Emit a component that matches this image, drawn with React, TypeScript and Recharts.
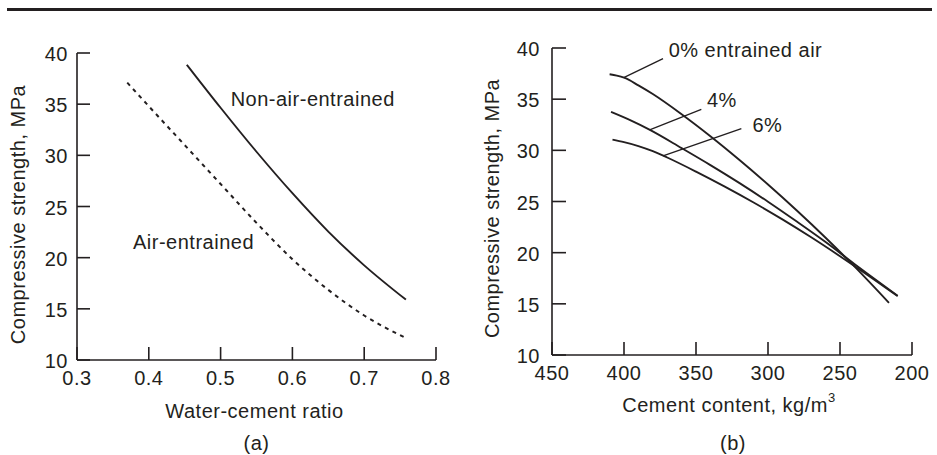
import { LineChart, Line, XAxis, YAxis, Label, ReferenceLine, ReferenceDot } from 'recharts';

const FONT = '"Liberation Sans", Arial, Helvetica, sans-serif';
const INK = '#231f20';
const FS = 20;
const LS = 0.5;

// (a) strength vs water-cement ratio
const ratioTicks = [0.3, 0.4, 0.5, 0.6, 0.7, 0.8];
const strengthTicks = [10, 15, 20, 25, 30, 35, 40];
const nonAirRatio = [0.453, 0.5, 0.55, 0.6, 0.65, 0.7, 0.758];
const nonAirStrength = [38.85, 34.65, 30.35, 26.3, 22.55, 19.25, 15.9];
const airRatio = [0.37, 0.4, 0.45, 0.5, 0.55, 0.6, 0.65, 0.7, 0.755];
const airStrength = [37.1, 34.8, 31.0, 27.2, 23.4, 19.85, 16.85, 14.35, 12.25];

// (b) strength vs cement content
const cementTicks = [450, 400, 350, 300, 250, 200];
const air0Cement = [410, 405, 400, 390, 380, 360, 340, 320, 300, 280, 260, 240, 216];
const air0Strength = [37.43, 37.3, 37.1, 36.35, 35.5, 33.53, 31.38, 29.08, 26.66, 24.12, 21.46, 18.66, 15.1];
const air4Cement = [409, 395, 382, 360, 340, 320, 300, 280, 260, 240, 210];
const air4Strength = [33.75, 32.9, 32.0, 30.22, 28.56, 26.82, 24.98, 23.04, 21.04, 18.9, 15.8];
const air6Cement = [408, 400, 390, 380, 370, 350, 330, 310, 290, 270, 250, 240, 210];
const air6Strength = [31.05, 30.8, 30.42, 29.92, 29.3, 27.92, 26.45, 24.9, 23.25, 21.5, 19.65, 18.7, 15.75];

// curve labels and their leader lines
const notesA = [
  { text: 'Non-air-entrained', x: 0.514, y: 35.5 },
  { text: 'Air-entrained', x: 0.378, y: 21.5 },
];
const notesB = [
  { text: '0% entrained air', x: 369, y: 39.78 },
  { text: '4%', x: 342.4, y: 34.96 },
  { text: '6%', x: 310.8, y: 32.45 },
];
const leadersB = [
  [{ x: 400.2, y: 37.1 }, { x: 372.9, y: 38.96 }],
  [{ x: 382.2, y: 32.0 }, { x: 346.3, y: 34.0 }],
  [{ x: 372.9, y: 29.45 }, { x: 318.5, y: 32.13 }],
];

const zip = (xs: number[], ys: number[]) => xs.map((x, i) => ({ x, y: ys[i] }));

const textStyle = { fontFamily: FONT, fontSize: FS, letterSpacing: LS, fill: INK };

const bottomTick = (fmt: (v: number) => string, gap: number) => (p: any) => (
  <g key={`bt-${p.index}`}>
    <line x1={p.x} x2={p.x} y1={p.y} y2={p.y - 13} stroke={INK} strokeWidth={1.6} />
    <text x={p.x} y={p.y + gap} textAnchor="middle" dominantBaseline="central" style={textStyle}>
      {fmt(p.payload.value)}
    </text>
  </g>
);

const leftTick = (gap: number, len: number) => (p: any) => (
  <g key={`lt-${p.index}`}>
    <line x1={p.x} x2={p.x + len} y1={p.y} y2={p.y} stroke={INK} strokeWidth={1.6} />
    <text x={p.x - gap} y={p.y + 1} textAnchor="end" dominantBaseline="central" style={textStyle}>
      {p.payload.value}
    </text>
  </g>
);

const noteShape = (text: string) => (p: any) => (
  <text x={p.cx} y={p.cy} dominantBaseline="central" style={textStyle}>
    {text}
  </text>
);

const yTitle = (dx: number, dy: number) => (p: any) => {
  const vb = p.viewBox;
  const cx = vb.x + dx;
  const cy = vb.y + vb.height / 2 + dy;
  return (
    <text x={cx} y={cy} textAnchor="middle" dominantBaseline="central" transform={`rotate(-90 ${cx} ${cy})`} style={textStyle}>
      Compressive strength, MPa
    </text>
  );
};

const axis = { stroke: INK, strokeWidth: 1.6 };

function PanelA() {
  return (
    <LineChart width={470} height={455} margin={{ top: 53, right: 34, bottom: 0, left: 0 }}>
      <XAxis type="number" dataKey="x" domain={[0.3, 0.8]} ticks={ratioTicks} allowDataOverflow interval={0}
        height={95} tickSize={0} tickMargin={0} tickLine={false} axisLine={axis}
        tick={bottomTick((v) => v.toFixed(1), 18)}>
        <Label content={(p: any) => (
          <g>
            <text x={p.viewBox.x + p.viewBox.width / 2 - 2} y={p.viewBox.y + 51} textAnchor="middle" dominantBaseline="central" style={textStyle}>
              Water-cement ratio
            </text>
            <text x={p.viewBox.x + p.viewBox.width / 2} y={p.viewBox.y + 83} textAnchor="middle" dominantBaseline="central" style={textStyle}>
              (a)
            </text>
          </g>
        )} />
      </XAxis>
      <YAxis type="number" dataKey="y" domain={[10, 40]} ticks={strengthTicks} allowDataOverflow interval={0}
        width={77} tickSize={0} tickMargin={0} tickLine={false} axisLine={axis}
        tick={leftTick(9, 13)}>
        <Label content={yTitle(18, 8)} />
      </YAxis>
      <Line data={zip(nonAirRatio, nonAirStrength)} dataKey="y" type="monotone" stroke={INK} strokeWidth={1.9}
        dot={false} activeDot={false} isAnimationActive={false} />
      <Line data={zip(airRatio, airStrength)} dataKey="y" type="monotone" stroke={INK} strokeWidth={2}
        strokeDasharray="4 4.5" dot={false} activeDot={false} isAnimationActive={false} />
      {notesA.map((n) => (
        <ReferenceDot key={n.text} x={n.x} y={n.y} r={0} ifOverflow="visible" shape={noteShape(n.text)} />
      ))}
    </LineChart>
  );
}

function PanelB() {
  return (
    <LineChart width={467} height={455} margin={{ top: 48, right: 25, bottom: 0, left: 0 }}>
      <XAxis type="number" dataKey="x" domain={[200, 450]} reversed ticks={cementTicks} allowDataOverflow interval={0}
        height={100} tickSize={0} tickMargin={0} tickLine={false} axisLine={axis}
        tick={bottomTick((v) => String(v), 18)}>
        <Label content={(p: any) => (
          <g>
            <text x={p.viewBox.x + p.viewBox.width / 2 - 3} y={p.viewBox.y + 50} textAnchor="middle" dominantBaseline="central" style={textStyle}>
              Cement content, kg/m<tspan dy={-8} fontSize={13}>3</tspan>
            </text>
            <text x={p.viewBox.x + p.viewBox.width / 2 + 1} y={p.viewBox.y + 88} textAnchor="middle" dominantBaseline="central" style={textStyle}>
              (b)
            </text>
          </g>
        )} />
      </XAxis>
      <YAxis type="number" dataKey="y" domain={[10, 40]} ticks={strengthTicks} allowDataOverflow interval={0}
        width={82} tickSize={0} tickMargin={0} tickLine={false} axisLine={axis}
        tick={leftTick(12, 14)}>
        <Label content={yTitle(21.7, 7)} />
      </YAxis>
      <Line data={zip(air0Cement, air0Strength)} dataKey="y" type="monotone" stroke={INK} strokeWidth={1.9}
        dot={false} activeDot={false} isAnimationActive={false} />
      <Line data={zip(air4Cement, air4Strength)} dataKey="y" type="monotone" stroke={INK} strokeWidth={1.9}
        dot={false} activeDot={false} isAnimationActive={false} />
      <Line data={zip(air6Cement, air6Strength)} dataKey="y" type="monotone" stroke={INK} strokeWidth={1.9}
        dot={false} activeDot={false} isAnimationActive={false} />
      {leadersB.map((seg, i) => (
        <ReferenceLine key={`ld-${i}`} segment={seg} stroke={INK} strokeWidth={1.3} ifOverflow="visible" />
      ))}
      {notesB.map((n) => (
        <ReferenceDot key={n.text} x={n.x} y={n.y} r={0} ifOverflow="visible" shape={noteShape(n.text)} />
      ))}
    </LineChart>
  );
}

export default function App() {
  return (
    <div style={{ position: 'absolute', left: 0, top: 0, width: 937, height: 455, background: '#fff', fontFamily: FONT }}>
      <div style={{ position: 'absolute', left: 7, top: 8, width: 925, height: 2.5, background: INK }} />
      <div style={{ position: 'absolute', left: 0, top: 0 }}>
        <PanelA />
      </div>
      <div style={{ position: 'absolute', left: 470, top: 0 }}>
        <PanelB />
      </div>
    </div>
  );
}
